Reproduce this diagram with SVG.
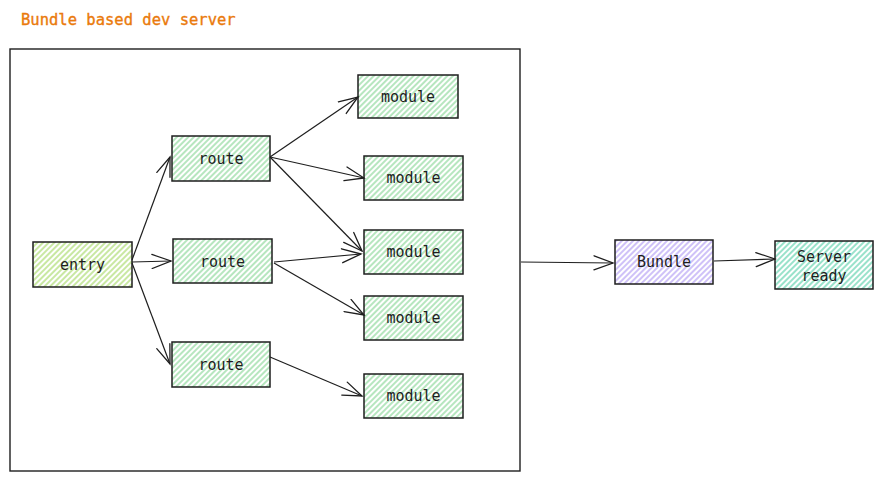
<svg xmlns="http://www.w3.org/2000/svg" width="883" height="481" viewBox="0 0 883 481">
<defs>
<pattern id="hg" width="4" height="4" patternUnits="userSpaceOnUse" patternTransform="rotate(45)"><line x1="2" y1="0" x2="2" y2="4" stroke="#8fd99c" stroke-width="1.3"/></pattern>
<pattern id="hy" width="4" height="4" patternUnits="userSpaceOnUse" patternTransform="rotate(45)"><line x1="2" y1="0" x2="2" y2="4" stroke="#acdc70" stroke-width="1.3"/></pattern>
<pattern id="hp" width="4" height="4" patternUnits="userSpaceOnUse" patternTransform="rotate(45)"><line x1="2" y1="0" x2="2" y2="4" stroke="#b5a0f5" stroke-width="1.3"/></pattern>
<pattern id="ht" width="4" height="4" patternUnits="userSpaceOnUse" patternTransform="rotate(45)"><line x1="2" y1="0" x2="2" y2="4" stroke="#62d3ae" stroke-width="1.3"/></pattern>
<marker id="ah" markerWidth="22" markerHeight="16" refX="20" refY="8" orient="auto" markerUnits="userSpaceOnUse"><path d="M1,1 L20,8 L1,15" fill="none" stroke="#1e1e1e" stroke-width="1.3" stroke-linecap="round"/></marker>
</defs>
<style>
.box{stroke:#1e1e1e;stroke-width:1.5}
.t{font-family:"DejaVu Sans Mono","Liberation Mono",monospace;font-size:15px;fill:#1e1e1e;text-anchor:middle}
.c{fill:none;stroke:#1e1e1e;stroke-width:1.2;marker-end:url(#ah)}
</style>
<text x="21" y="25" style="font-family:'DejaVu Sans Mono','Liberation Mono',monospace;font-size:15.5px;fill:#ea7a0c;stroke:#ea7a0c;stroke-width:0.35">Bundle based dev server</text>
<g id="frame"><rect x="10" y="49" width="510" height="422" fill="none" stroke="#1e1e1e" stroke-width="1.4"/></g>
<g id="entry"><rect class="box" x="33" y="242" width="99" height="45" fill="url(#hy)"/><text class="t" x="82.5" y="270">entry</text></g>
<g id="route1"><rect class="box" x="172" y="136" width="98" height="45" fill="url(#hg)"/><text class="t" x="221" y="164">route</text></g>
<g id="route2"><rect class="box" x="173" y="239" width="99" height="44" fill="url(#hg)"/><text class="t" x="222.5" y="267">route</text></g>
<g id="route3"><rect class="box" x="172" y="342" width="98" height="45" fill="url(#hg)"/><text class="t" x="221" y="370">route</text></g>
<g id="module1"><rect class="box" x="358" y="75" width="100" height="43" fill="url(#hg)"/><text class="t" x="408" y="102">module</text></g>
<g id="module2"><rect class="box" x="364" y="156" width="99" height="44" fill="url(#hg)"/><text class="t" x="413.5" y="183">module</text></g>
<g id="module3"><rect class="box" x="364" y="230" width="99" height="44" fill="url(#hg)"/><text class="t" x="413.5" y="257">module</text></g>
<g id="module4"><rect class="box" x="364" y="296" width="99" height="44" fill="url(#hg)"/><text class="t" x="413.5" y="323">module</text></g>
<g id="module5"><rect class="box" x="364" y="374" width="99" height="44" fill="url(#hg)"/><text class="t" x="413.5" y="401">module</text></g>
<g id="bundle"><rect class="box" x="615" y="240" width="98" height="44" fill="url(#hp)"/><text class="t" x="664" y="267">Bundle</text></g>
<g id="server"><rect class="box" x="775" y="241" width="98" height="48" fill="url(#ht)"/><text class="t" x="824" y="262">Server</text><text class="t" x="824" y="281">ready</text></g>
<g id="connectors">
<path class="c" d="M132,260 L170,157"/>
<path class="c" d="M132,262 L171,261"/>
<path class="c" d="M132,263 L170,364"/>
<path class="c" d="M270,157 L358,97"/>
<path class="c" d="M270,157 L364,178"/>
<path class="c" d="M270,157 L362,251"/>
<path class="c" d="M274,262 L361,254"/>
<path class="c" d="M274,263 L364,315"/>
<path class="c" d="M270,357 L362,396"/>
<path class="c" d="M521,262 L613,263"/>
<path class="c" d="M714,261 L775,259"/>
</g>
</svg>
